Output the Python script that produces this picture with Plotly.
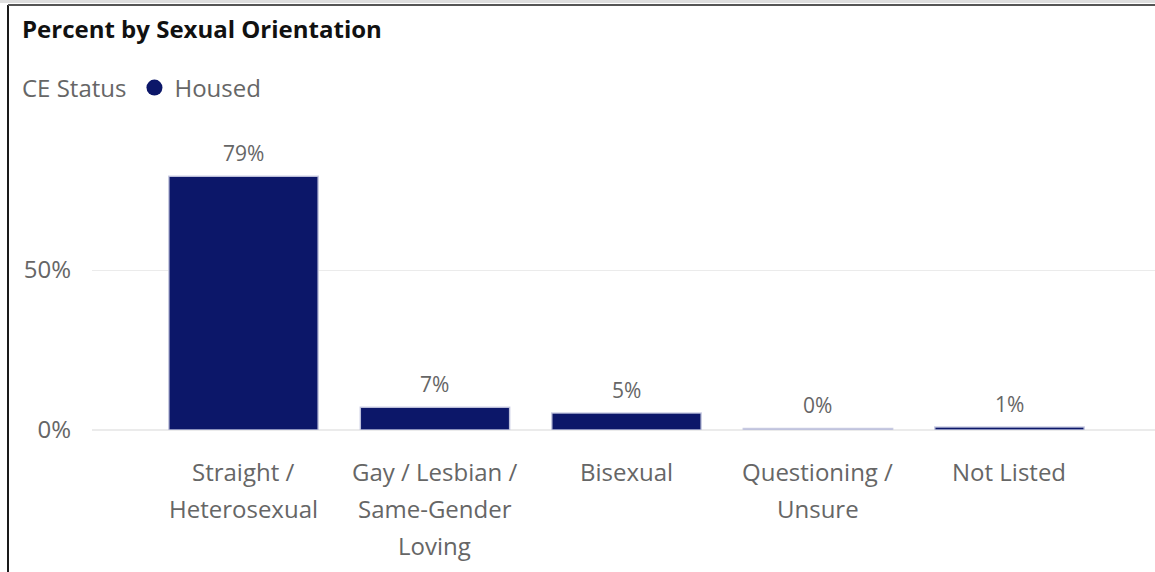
import plotly.graph_objects as go

categories = ["Straight / Heterosexual", "Gay / Lesbian / Same-Gender Loving",
              "Bisexual", "Questioning / Unsure", "Not Listed"]
label_lines = [["Straight /", "Heterosexual"],
               ["Gay / Lesbian /", "Same-Gender", "Loving"],
               ["Bisexual"],
               ["Questioning /", "Unsure"],
               ["Not Listed"]]
housed_pct = [79.3, 7.1, 5.3, 0.49, 0.9]
value_text = ["79%", "7%", "5%", "0%", "1%"]
bar_colors = ["#0c1769", "#0c1769", "#0c1769", "#7e83b8", "#0c1769"]

font_family = "Open Sans, Noto Sans, sans-serif"
gray = "#666666"

fig = go.Figure()
fig.add_trace(go.Bar(
    x=categories, y=housed_pct,
    marker_color=bar_colors,
    marker_line=dict(color="rgba(200,202,225,0.9)", width=1.5),
    width=0.78, showlegend=False,
    hovertemplate="%{x}<br>%{y}%<extra></extra>",
))
# legend entry with a round marker
fig.add_trace(go.Scatter(
    x=[None], y=[None], mode="markers", name="Housed",
    marker=dict(color="#0c1769", size=19, symbol="circle"),
))

annotations = []
for cat, val, txt in zip(categories, housed_pct, value_text):
    annotations.append(dict(x=cat, y=val, text=txt, showarrow=False,
                            yanchor="middle", yshift=23,
                            font=dict(size=21, color=gray, family=font_family)))
for cat, lines in zip(categories, label_lines):
    for i, line in enumerate(lines):
        annotations.append(dict(x=cat, y=0, text=line, showarrow=False,
                                yanchor="middle", yshift=-(41 + 37 * i),
                                font=dict(size=24, color=gray, family=font_family)))

fig.update_layout(
    width=1155, height=572,
    paper_bgcolor="white", plot_bgcolor="white",
    margin=dict(l=92, r=0, t=130, b=142),
    font=dict(family=font_family, color=gray),
    title=dict(text="<b>Percent by Sexual Orientation</b>",
               x=22 / 1155, xanchor="left", xref="container",
               y=1 - 30 / 572, yanchor="middle", yref="container",
               font=dict(size=24, color="#111111", family=font_family)),
    legend=dict(orientation="h", title=dict(text="CE Status", font=dict(size=24, color=gray)),
                font=dict(size=24, color=gray),
                xref="container", yref="container",
                x=20 / 1155, xanchor="left", y=1 - 88 / 572, yanchor="middle",
                itemwidth=30, bgcolor="rgba(0,0,0,0)"),
    annotations=annotations,
    xaxis=dict(range=[-0.791, 4.76], showticklabels=False, showgrid=False,
               zeroline=False, showline=False),
    yaxis=dict(range=[0, 93.75], tickvals=[0, 50], ticktext=["0%", "50%"],
               showgrid=True, gridcolor="#ebebeb", gridwidth=1,
               zeroline=True, zerolinecolor="#ebebeb", zerolinewidth=2,
               ticklabelstandoff=20,
               tickfont=dict(size=24, color=gray)),
    bargap=0.22,
    shapes=[
        dict(type="line", xref="paper", yref="paper", x0=-84 / 1063, x1=-84 / 1063,
             y0=-142 / 300, y1=1 + 125 / 300, line=dict(color="#1a1a1a", width=2)),
        dict(type="line", xref="paper", yref="paper", x0=-84 / 1063, x1=1,
             y0=1 + 125 / 300, y1=1 + 125 / 300, line=dict(color="#555555", width=2)),
        dict(type="line", xref="paper", yref="paper", x0=-92 / 1063, x1=1,
             y0=1 + 128.5 / 300, y1=1 + 128.5 / 300, line=dict(color="#dedede", width=3)),
    ],
)

fig.write_html("out.html", config={"displayModeBar": False},
               post_script="document.body.style.margin='0';")
